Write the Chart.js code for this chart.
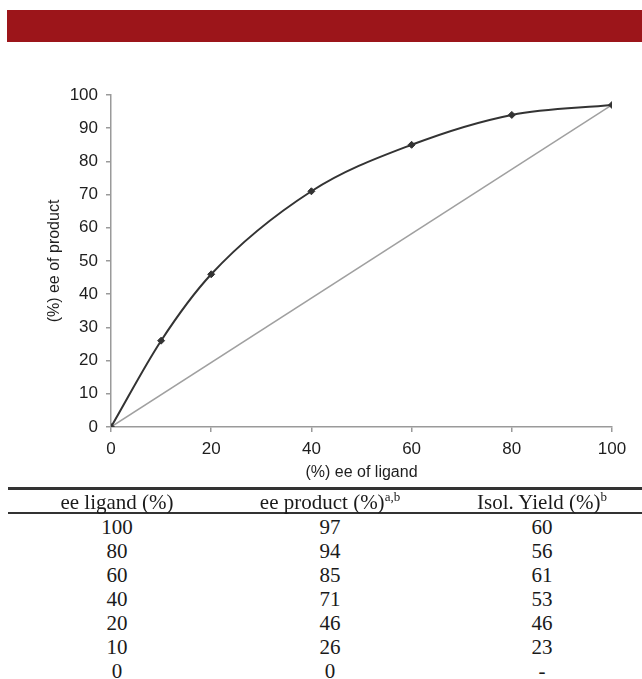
<!DOCTYPE html>
<html>
<head>
<meta charset="utf-8">
<script src="https://cdn.jsdelivr.net/npm/chart.js@4.4.1/dist/chart.umd.min.js"></script>
<style>
  body { margin: 0; background: #fff; width: 642px; height: 679px; position: relative; overflow: hidden; }
  #banner { position: absolute; left: 7px; top: 10px; width: 635px; height: 32px; background: #9c151a; }
  #chartBox { position: absolute; left: 0; top: 60px; width: 642px; height: 430px; }
  .rule { position: absolute; left: 8px; right: 0; background: #333; }
  .cell { position: absolute; width: 240px; margin-left: -120px; text-align: center;
          font-family: "Liberation Serif", "Times New Roman", serif; font-size: 21px; color: #1a1a1a;
          line-height: 24px; height: 24px; white-space: nowrap; }
  .cell sup { font-size: 13px; line-height: 0; vertical-align: 8px; }
</style>
</head>
<body>
<div id="banner"></div>
<div id="chartBox"><canvas id="chart1" width="642" height="430"></canvas></div>
<div id="table1"></div>
<script>
// chart data
const ligandEe = [0, 10, 20, 40, 60, 80, 100]
const productEe = [0, 26, 46, 71, 85, 94, 97]
const refX = [0, 100]
const refY = [0, 97]
const xTicks = [0, 20, 40, 60, 80, 100]
const yTicks = [0, 10, 20, 30, 40, 50, 60, 70, 80, 90, 100]

// table data (rows as printed)
const tableHeaders = ['ee ligand (%)', 'ee product (%)<sup>a,b</sup>', 'Isol. Yield (%)<sup>b</sup>']
const colLigand = ['100', '80', '60', '40', '20', '10', '0']
const colProduct = ['97', '94', '85', '71', '46', '26', '0']
const colYield = ['60', '56', '61', '53', '46', '23', '-']

const tickFont = { family: 'Liberation Sans, Arial, sans-serif', size: 17 }
const titleFont = { family: 'Liberation Sans, Arial, sans-serif', size: 16 }
const textColor = '#1e1e1e'
const axisColor = '#9a9a9a'

const mainChart = () => {
    const ctx = document.getElementById('chart1').getContext('2d')

    new Chart(ctx, {
        type: 'scatter',
        data: {
            datasets: [
                {
                    data: ligandEe.map((x, i) => ({ x: x, y: productEe[i] })),
                    showLine: true,
                    borderColor: '#333',
                    borderWidth: 2,
                    cubicInterpolationMode: 'monotone',
                    pointStyle: 'rectRot',
                    pointRadius: 3.5,
                    pointBackgroundColor: '#333',
                    pointBorderColor: '#333',
                    pointBorderWidth: 1
                },
                {
                    data: refX.map((x, i) => ({ x: x, y: refY[i] })),
                    showLine: true,
                    borderColor: '#a0a0a0',
                    borderWidth: 1.5,
                    pointRadius: 0
                }
            ]
        },
        options: {
            responsive: false,
            animation: false,
            layout: { padding: { top: 35, right: 30, left: 0, bottom: 0 } },
            plugins: {
                legend: { display: false },
                tooltip: { enabled: false }
            },
            scales: {
                x: {
                    type: 'linear',
                    min: 0,
                    max: 100,
                    afterBuildTicks: s => { s.ticks = xTicks.map(v => ({ value: v })) },
                    afterFit: s => { s.height = 63 },
                    ticks: { font: tickFont, color: textColor, padding: 7, maxRotation: 0 },
                    grid: { drawOnChartArea: false, tickLength: 5, color: axisColor, lineWidth: 1.5 },
                    border: { color: axisColor, width: 1.5 },
                    title: { display: true, text: '(%) ee of ligand', font: titleFont, color: textColor, padding: { top: 0, bottom: 8 } }
                },
                y: {
                    min: 0,
                    max: 100,
                    afterBuildTicks: s => { s.ticks = yTicks.map(v => ({ value: v })) },
                    afterFit: s => { s.width = 111 },
                    ticks: { font: tickFont, color: textColor, padding: 8 },
                    grid: { drawOnChartArea: false, tickLength: 5, color: axisColor, lineWidth: 1.5 },
                    border: { color: axisColor, width: 1.5 },
                    title: { display: true, text: '(%) ee of product', font: titleFont, color: textColor, padding: { top: 45, bottom: 0 } }
                }
            }
        }
    })
}

mainChart()

// build the table below the chart
const buildTable = () => {
    const table = document.getElementById('table1')
    const colCenters = [117, 330, 542]
    const rowTop = 515
    const rowStep = 24

    const addRule = (top, h) => {
        const r = document.createElement('div')
        r.className = 'rule'
        r.style.top = top + 'px'
        r.style.height = h + 'px'
        table.appendChild(r)
    }
    addRule(487, 2.5)
    addRule(512, 2)

    const addCell = (html, x, top) => {
        const c = document.createElement('div')
        c.className = 'cell'
        c.style.left = x + 'px'
        c.style.top = top + 'px'
        c.innerHTML = html
        table.appendChild(c)
    }

    tableHeaders.forEach((h, j) => addCell(h, colCenters[j], 490))
    const cols = [colLigand, colProduct, colYield]
    cols.forEach((col, j) => {
        col.forEach((v, i) => addCell(v, colCenters[j], rowTop + i * rowStep))
    })
}

buildTable()
</script>
</body>
</html>
